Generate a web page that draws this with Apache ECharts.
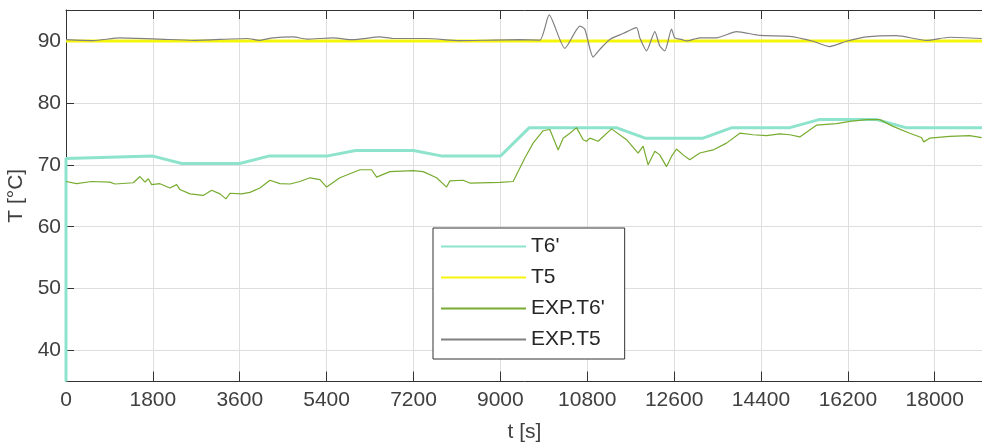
<!DOCTYPE html>
<html><head><meta charset="utf-8">
<script src="https://cdn.jsdelivr.net/npm/echarts@6/dist/echarts.min.js"></script>
<style>html,body{margin:0;padding:0;background:#fff}#c{width:982px;height:443px}</style>
</head><body><div id="c"></div>
<script>
const seriesNames = ["T6'", "T5", "EXP.T6'", "EXP.T5"];
const xTicks = [0,1800,3600,5400,7200,9000,10800,12600,14400,16200,18000];
const yTicks = [40,50,60,70,80,90];

const t6Time = [0,0,1800,2400,3600,4200,5400,6000,7200,7800,9000,9600,11400,12000,13200,13800,15000,15600,16800,17400,19000];
const t6Vals = [35,71.0,71.4,70.2,70.2,71.4,71.4,72.3,72.3,71.4,71.4,76.0,76.0,74.3,74.3,76.0,76.0,77.3,77.3,76.0,76.0];

const t5Time = [0,19000];
const t5Vals = [90,90];

const expT6Time = [0,220,530,910,1015,1394,1533,1636,1705,1775,1947,2154,2293,2361,2568,2844,3018,3190,3314,3397,3639,3811,4018,4225,4433,4640,4847,5054,5261,5400,5675,6090,6332,6436,6711,7194,7401,7678,7886,7954,8229,8368,8989,9265,9507,9679,9886,10025,10197,10301,10440,10578,10715,10786,10855,11026,11303,11614,11854,11958,12061,12200,12303,12442,12546,12649,12786,12925,13132,13408,13685,13961,14236,14514,14789,14996,15203,15549,15963,16239,16585,16861,17137,17482,17724,17772,17896,18310,18724,18973];
const expT6Vals = [67.3,66.95,67.3,67.2,66.9,67.1,68.1,67.2,67.75,66.8,66.95,66.25,66.8,66.0,65.3,65.05,65.9,65.3,64.5,65.4,65.3,65.55,66.25,67.5,66.95,66.9,67.3,67.9,67.6,66.4,67.9,69.2,69.2,68.0,68.9,69.05,68.9,67.9,66.4,67.4,67.5,67.05,67.15,67.3,71.1,73.5,75.5,75.7,72.4,74.3,75.1,76.0,74.05,73.8,74.3,73.8,75.8,74.05,71.9,73.0,70.0,72.2,71.6,69.7,71.35,72.55,71.6,70.8,71.9,72.4,73.5,75.1,74.85,74.7,75.0,74.85,74.5,76.4,76.65,77.0,77.3,77.3,76.2,75.1,74.4,73.7,74.3,74.6,74.7,74.4];

const expT5Time = [0,559,1118,1947,2631,3749,4018,4288,4702,4992,5530,5945,6504,6773,7477,8161,8845,9404,9818,10011,10336,10647,10750,10922,11061,11268,11544,11821,11889,12028,12200,12303,12407,12546,12614,12753,12857,13132,13478,13892,14375,14996,15479,15824,16170,16585,17206,17828,18310,18973];
const expT5Vals = [90.2,90.05,90.5,90.3,90.1,90.4,90.1,90.5,90.65,90.3,90.5,90.2,90.65,90.4,90.4,90.05,90.15,90.2,90.15,94.2,88.8,92.4,91.9,87.4,88.65,90.25,91.2,92.15,90.5,88.4,91.5,89.2,88.4,91.9,90.5,90.25,90.0,90.5,90.5,91.5,90.9,90.75,89.95,89.1,89.95,90.65,90.85,90.1,90.6,90.4];

function pairs(a, b) { return a.map((v, i) => [v, b[i]]); }

const font = "'Liberation Sans', Arial, Helvetica, sans-serif";
const axisColor = '#333333';
const labelColor = '#404040';
const gridColor = '#dedede';
const fs = 21;

const chart = echarts.init(document.getElementById('c'), null, {renderer: 'canvas'});
chart.setOption({
  animation: false,
  backgroundColor: '#ffffff',
  textStyle: {fontFamily: font},
  grid: {left: 66, top: 10, width: 917, height: 371.5, containLabel: false, outerBoundsMode: 'none'},
  legend: {
    orient: 'vertical', left: 433, top: 228,
    data: seriesNames,
    itemWidth: 85, itemHeight: 2, itemGap: 10,
    itemStyle: {opacity: 0},
    padding: [8, 20, 9, 7],
    borderColor: '#333333', borderWidth: 1, backgroundColor: '#ffffff',
    textStyle: {fontSize: fs, color: '#262626', fontFamily: font}
  },
  xAxis: [{
    type: 'value', position: 'bottom', min: 0, max: 19000,
    name: 't [s]', nameLocation: 'middle', nameGap: 40,
    nameTextStyle: {fontSize: fs, color: labelColor, fontFamily: font},
    axisLine: {show: true, onZero: false, lineStyle: {color: axisColor, width: 1}},
    axisTick: {show: true, inside: true, length: 10, customValues: xTicks, lineStyle: {color: axisColor}},
    axisLabel: {show: true, customValues: xTicks, fontSize: fs, color: labelColor, margin: 8, fontFamily: font,
      formatter: v => String(v)},
    splitLine: {show: true, lineStyle: {color: gridColor, width: 1}}
  }, {
    type: 'value', position: 'top', min: 0, max: 19000,
    axisLine: {show: true, onZero: false, lineStyle: {color: axisColor, width: 1}},
    axisTick: {show: true, inside: true, length: 9, customValues: xTicks, lineStyle: {color: axisColor}},
    axisLabel: {show: false},
    splitLine: {show: false}
  }],
  yAxis: [{
    type: 'value', position: 'left', min: 35, max: 95,
    name: 'T [°C]', nameLocation: 'middle', nameGap: 33, nameRotate: 90,
    nameTextStyle: {fontSize: fs, color: labelColor, fontFamily: font},
    axisLine: {show: true, onZero: false, lineStyle: {color: axisColor, width: 1}},
    axisTick: {show: true, inside: true, length: 8, customValues: yTicks, lineStyle: {color: axisColor}},
    axisLabel: {show: true, customValues: yTicks, fontSize: fs, color: labelColor, margin: 5, fontFamily: font,
      formatter: v => String(v)},
    splitLine: {show: true, lineStyle: {color: gridColor, width: 1}}
  }],
  series: [
    {name: seriesNames[0], type: 'line', data: pairs(t6Time, t6Vals), showSymbol: false, symbol: 'none',
     lineStyle: {color: '#8de3cc', width: 3}, itemStyle: {color: '#8de3cc'}, z: 2},
    {name: seriesNames[1], type: 'line', data: pairs(t5Time, t5Vals), showSymbol: false, symbol: 'none',
     lineStyle: {color: '#f5f50a', width: 3}, itemStyle: {color: '#f5f50a'}, z: 3},
    {name: seriesNames[2], type: 'line', data: pairs(expT6Time, expT6Vals), showSymbol: false, symbol: 'none',
     lineStyle: {color: '#77ac30', width: 1.2}, itemStyle: {color: '#77ac30'}, z: 4},
    {name: seriesNames[3], type: 'line', data: pairs(expT5Time, expT5Vals), showSymbol: false, symbol: 'none', smooth: 0.2,
     lineStyle: {color: '#808080', width: 1.2}, itemStyle: {color: '#808080'}, z: 5}
  ]
});
</script></body></html>
